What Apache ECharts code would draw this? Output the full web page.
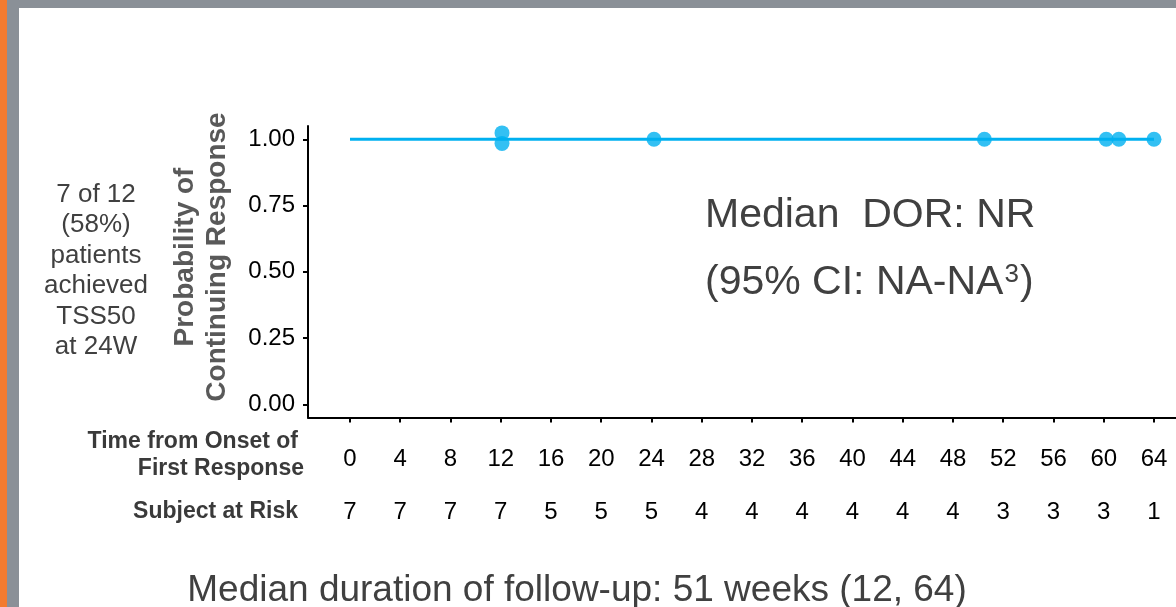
<!DOCTYPE html>
<html>
<head>
<meta charset="utf-8">
<script src="https://cdn.jsdelivr.net/npm/echarts@6/dist/echarts.min.js"></script>
<style>
  html, body { margin: 0; padding: 0; background: #ffffff; }
  #chart { width: 1176px; height: 607px; }
</style>
</head>
<body>
<div id="chart"></div>
<script>
// ---- data ----
var timeTicks = [0, 4, 8, 12, 16, 20, 24, 28, 32, 36, 40, 44, 48, 52, 56, 60, 64];
var subjectsAtRisk = [7, 7, 7, 7, 5, 5, 5, 4, 4, 4, 4, 4, 4, 3, 3, 3, 1];
var probTicks = [0, 0.25, 0.5, 0.75, 1.0];
var curveTimes = [0, 64];
var curveProb = [1.0, 1.0];
var censorTimes = [12.1, 12.1, 24.2, 50.5, 60.2, 61.2, 64.0];
var censorProb = [1.024, 0.984, 1.0, 1.0, 1.0, 1.0, 1.0];

var FONT = '"Liberation Sans", Arial, sans-serif';
var BLUE = '#00B0F0';
var TXT = '#404040';

var chart = echarts.init(document.getElementById('chart'), null, { renderer: 'canvas' });

var option = {
  animation: false,
  backgroundColor: '#ffffff',
  grid: { left: 308, right: -18.2, top: 126, bottom: 189.5, containLabel: false, outerBoundsMode: 'none' },
  xAxis: [
    {
      type: 'value', min: -3.343, max: 67.2,
      axisLine: { show: true, onZero: false, lineStyle: { color: '#000', width: 2 } },
      axisTick: { show: true, length: 5, customValues: timeTicks, lineStyle: { color: '#000', width: 2 } },
      axisLabel: { show: true, customValues: timeTicks, margin: 30, fontSize: 24, color: '#000', fontFamily: FONT },
      splitLine: { show: false }
    },
    {
      type: 'value', min: -3.343, max: 67.2, position: 'bottom',
      axisLine: { show: false }, axisTick: { show: false },
      axisLabel: {
        show: true, customValues: timeTicks, margin: 83, fontSize: 24, color: '#000', fontFamily: FONT,
        formatter: function (v) { var i = timeTicks.indexOf(v); return i >= 0 ? String(subjectsAtRisk[i]) : ''; }
      },
      splitLine: { show: false }
    }
  ],
  yAxis: {
    type: 'value', min: -0.05, max: 1.05,
    axisLine: { show: true, onZero: false, lineStyle: { color: '#000', width: 2 } },
    axisTick: { show: true, length: 5, customValues: probTicks, lineStyle: { color: '#000', width: 2 } },
    axisLabel: {
      show: true, customValues: probTicks, margin: 13, fontSize: 24, color: '#000', fontFamily: FONT,
      formatter: function (v) { return v.toFixed(2); }
    },
    splitLine: { show: false }
  },
  series: [
    {
      type: 'line', xAxisIndex: 0,
      data: curveTimes.map(function (t, i) { return [t, curveProb[i]]; }),
      showSymbol: false, symbol: 'none',
      lineStyle: { color: BLUE, width: 3 }
    },
    {
      type: 'scatter', xAxisIndex: 0,
      data: censorTimes.map(function (t, i) { return [t, censorProb[i]]; }),
      symbol: 'circle', symbolSize: 15,
      itemStyle: { color: BLUE }
    }
  ],
  graphic: [
    { type: 'rect', shape: { x: 0, y: 0, width: 1176, height: 8 }, style: { fill: '#8A9097' }, silent: true },
    { type: 'rect', shape: { x: 7, y: 0, width: 12, height: 607 }, style: { fill: '#8A9097' }, silent: true },
    { type: 'rect', shape: { x: 0, y: 0, width: 7, height: 607 }, style: { fill: '#F37B2F' }, silent: true },
    {
      type: 'text', x: 96, y: 271, silent: true,
      style: { text: '7 of 12\n(58%)\npatients\nachieved\nTSS50\nat 24W', font: '26px ' + FONT, fill: TXT,
               align: 'center', verticalAlign: 'middle', lineHeight: 30.5 }
    },
    {
      type: 'text', x: 201, y: 257, rotation: Math.PI / 2, silent: true,
      style: { text: 'Probability of\nContinuing Response', font: 'bold 28px ' + FONT, fill: '#595959',
               align: 'center', verticalAlign: 'middle', lineHeight: 32 }
    },
    {
      type: 'text', x: 298, y: 442, silent: true,
      style: { text: 'Time from Onset of', font: 'bold 23px ' + FONT, fill: '#3A3A3A', align: 'right', verticalAlign: 'middle' }
    },
    {
      type: 'text', x: 304, y: 469, silent: true,
      style: { text: 'First Response', font: 'bold 23px ' + FONT, fill: '#3A3A3A', align: 'right', verticalAlign: 'middle' }
    },
    {
      type: 'text', x: 298, y: 512, silent: true,
      style: { text: 'Subject at Risk', font: 'bold 23px ' + FONT, fill: '#3A3A3A', align: 'right', verticalAlign: 'middle' }
    },
    {
      type: 'text', x: 705, y: 236, silent: true,
      style: { text: 'Median  DOR: NR', font: '41px ' + FONT, fill: TXT, align: 'left', verticalAlign: 'bottom' }
    },
    {
      type: 'text', x: 705, y: 303, silent: true,
      style: {
        text: '{a|(95% CI: NA-NA}{s|3}{a|)}', align: 'left', verticalAlign: 'bottom',
        rich: {
          a: { font: '41px ' + FONT, fill: TXT, verticalAlign: 'bottom' },
          s: { font: '26px ' + FONT, fill: TXT, verticalAlign: 'top', padding: [0, 1, 14, 1] }
        }
      }
    },
    {
      type: 'text', x: 577, y: 609, silent: true,
      style: { text: 'Median duration of follow-up: 51 weeks (12, 64)', font: '37px ' + FONT, fill: TXT,
               align: 'center', verticalAlign: 'bottom' }
    }
  ]
};
chart.setOption(option);
</script>
</body>
</html>
